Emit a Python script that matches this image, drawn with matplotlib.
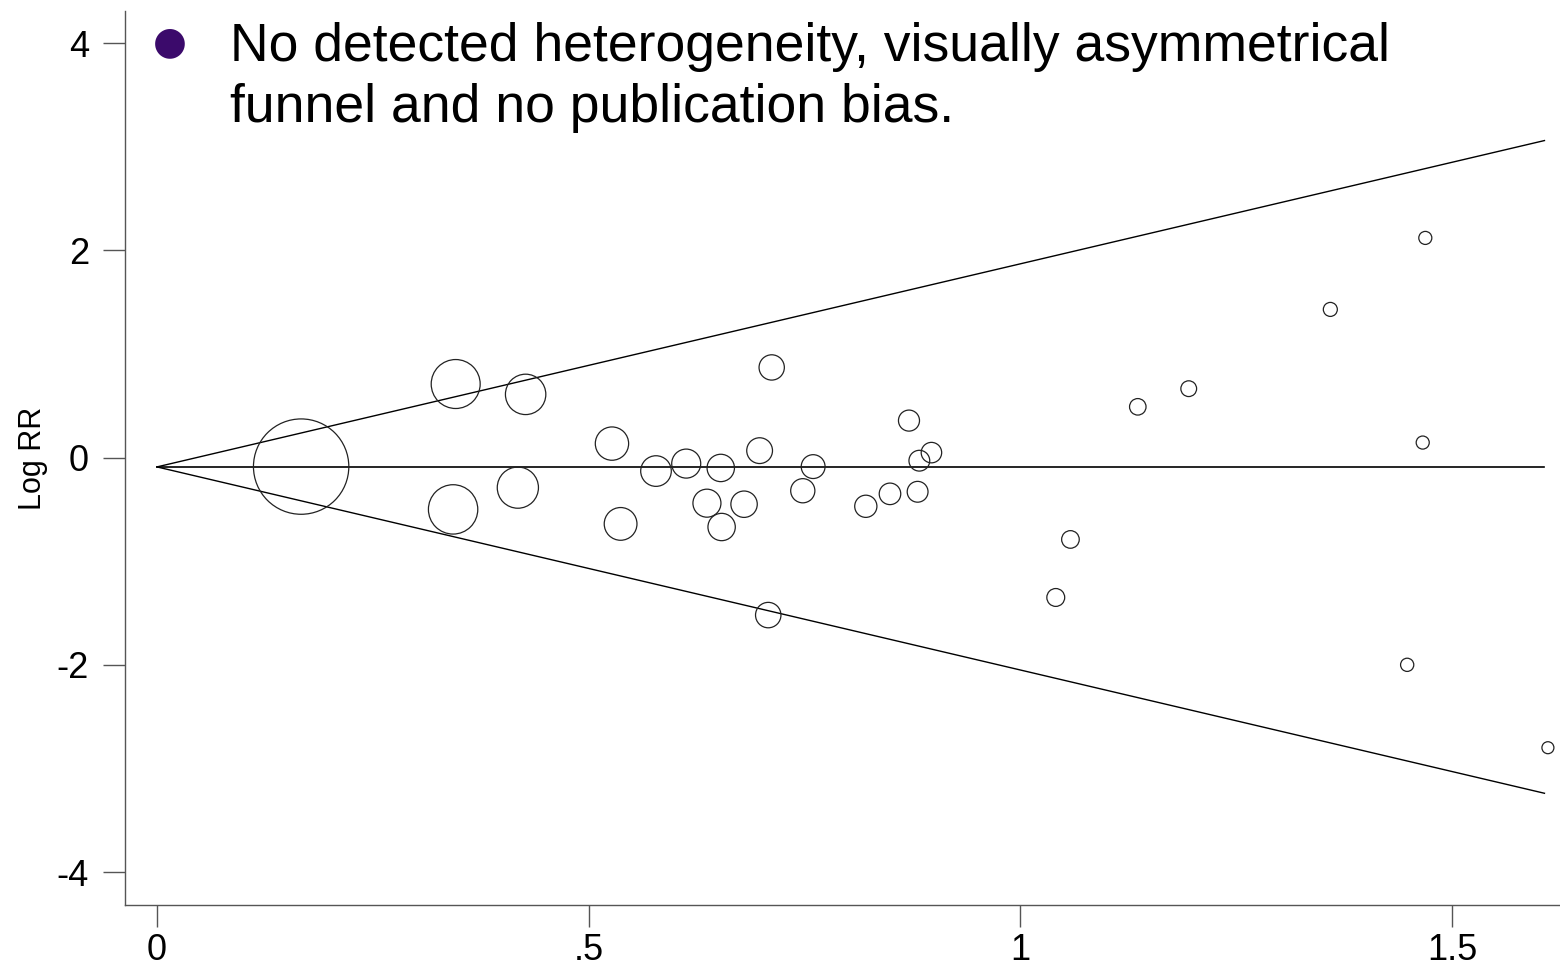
import numpy as np
import matplotlib
matplotlib.use("Agg")
import matplotlib.pyplot as plt
from matplotlib.ticker import FixedLocator, FixedFormatter

plt.rcParams['font.family'] = ['Liberation Sans', 'DejaVu Sans']

# Data: standard error (x) and log relative risk (y) for each study
se = [0.167, 0.346, 0.343, 0.427, 0.418, 0.527, 0.537, 0.578, 0.613, 0.637,
      0.653, 0.654, 0.680, 0.698, 0.712, 0.708, 0.748, 0.760, 0.821, 0.849,
      0.871, 0.881, 0.883, 0.897, 1.041, 1.058, 1.136, 1.195, 1.359, 1.469,
      1.466, 1.448, 1.611]
log_rr = [-0.087, 0.71, -0.50, 0.61, -0.29, 0.135, -0.64, -0.13, -0.058, -0.44,
          -0.10, -0.67, -0.45, 0.067, 0.87, -1.52, -0.32, -0.087, -0.47, -0.35,
          0.357, -0.33, -0.03, 0.048, -1.35, -0.79, 0.49, 0.665, 1.43, 2.12,
          0.145, -2.0, -2.80]
pooled = -0.09

x_ticks = [0, 0.5, 1, 1.5]
x_tick_labels = ["0", ".5", "1", "1.5"]
y_ticks = [-4, -2, 0, 2, 4]
y_tick_labels = ["-4", "-2", "0", "2", "4"]
title_lines = ["No detected heterogeneity, visually asymmetrical",
               "funnel and no publication bias."]
y_label = "Log RR"

se_arr = np.array(se)
y_arr = np.array(log_rr)

W, H = 1560, 960
fig = plt.figure(figsize=(W / 100, H / 100), dpi=100)
left, right, top, bottom = 125, 1560, 11, 905
ax = fig.add_axes([left / W, (H - bottom) / H, (right - left) / W, (bottom - top) / H])

# funnel (pseudo 95% CI) and pooled line
se_end = se_arr.max() - 0.004
se_line = np.linspace(0, se_end, 50)
ax.plot(se_line, pooled + 1.96 * se_line, color='black', lw=1.0)
ax.plot(se_line, pooled - 1.96 * se_line, color='black', lw=1.0)
ax.plot([0, se_end], [pooled, pooled], color='black', lw=1.2)

# marker sizes by weight
r_px = 9.27 / se_arr ** 0.915
d_pt = 2 * r_px * 72 / 100
ax.scatter(se_arr, y_arr, s=d_pt ** 2, facecolors='none', edgecolors='#222222',
           linewidths=0.9, zorder=3)

ax.set_xlim(-0.037, 1.625)
ax.set_ylim(-4.318, 4.31)

ax.xaxis.set_major_locator(FixedLocator(x_ticks))
ax.xaxis.set_major_formatter(FixedFormatter(x_tick_labels))
ax.yaxis.set_major_locator(FixedLocator(y_ticks))
ax.yaxis.set_major_formatter(FixedFormatter(y_tick_labels))

for s in ['top', 'right']:
    ax.spines[s].set_visible(False)
for s in ['left', 'bottom']:
    ax.spines[s].set_color('#555555')
    ax.spines[s].set_linewidth(1.0)

ax.tick_params(axis='both', length=16, width=1.0, color='#555555', labelsize=26,
               labelcolor='black')
ax.tick_params(axis='y', pad=10)
ax.tick_params(axis='x', pad=4)

ax.set_ylabel(y_label, fontsize=22, labelpad=6)

# bullet + title text
fig.text(170 / W, 1 - 42 / H, "\u25CF", color='#3B0A6B', fontsize=28,
         ha='center', va='center', family=['DejaVu Sans'])
fig.text(230 / W, 1 - 61 / H, title_lines[0], fontsize=38.5, ha='left',
         va='baseline', color='black')
fig.text(230 / W, 1 - 122 / H, title_lines[1], fontsize=38.5, ha='left',
         va='baseline', color='black')

fig.savefig("out.png", dpi=100)
